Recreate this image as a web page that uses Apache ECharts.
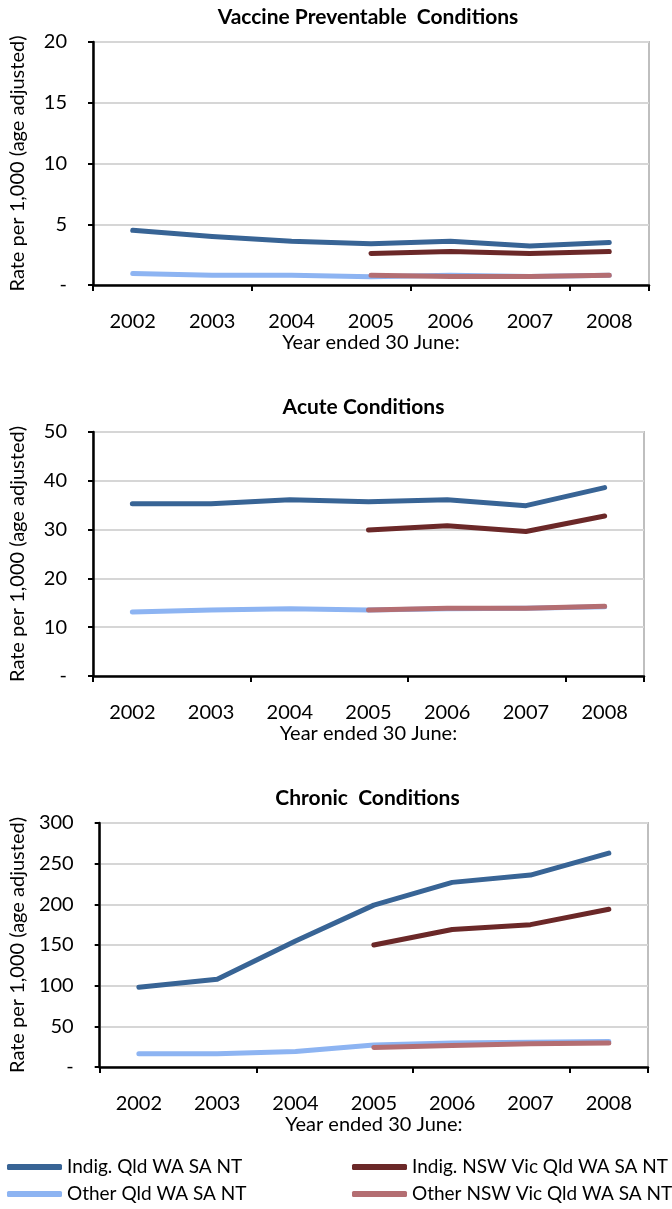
<!DOCTYPE html>
<html>
<head>
<meta charset="utf-8">
<script src="https://cdn.jsdelivr.net/npm/echarts@6/dist/echarts.min.js"></script>
<style>
html,body{margin:0;padding:0;background:#fff;}
#c{width:672px;height:1209px;}
</style>
</head>
<body>
<div id="c"></div>
<script>
const years = ['2002','2003','2004','2005','2006','2007','2008'];
const seriesNames = ['Indig. Qld WA SA NT','Other Qld WA SA NT','Indig. NSW Vic Qld WA SA NT','Other NSW Vic Qld WA SA NT'];
const colors = ['#386495','#8DB4F2','#6B2828','#B46E72'];
const panelTitles = ['Vaccine Preventable  Conditions','Acute Conditions','Chronic  Conditions'];

const vaccIndigQld = [4.5, 4.0, 3.6, 3.4, 3.6, 3.2, 3.5];
const vaccOtherQld = [0.95, 0.8, 0.8, 0.68, 0.8, 0.7, 0.8];
const vaccIndigNsw = [null, null, null, 2.6, 2.75, 2.6, 2.75];
const vaccOtherNsw = [null, null, null, 0.8, 0.7, 0.7, 0.8];

const acuteIndigQld = [35.3, 35.3, 36.1, 35.7, 36.1, 34.9, 38.6];
const acuteOtherQld = [13.1, 13.5, 13.8, 13.5, 13.8, 13.9, 14.2];
const acuteIndigNsw = [null, null, null, 29.9, 30.8, 29.6, 32.8];
const acuteOtherNsw = [null, null, null, 13.5, 13.9, 13.9, 14.3];

const chronIndigQld = [98, 108, 155, 199, 227, 236, 263];
const chronOtherQld = [16.4, 16.4, 19, 27, 29.5, 30.5, 31.5];
const chronIndigNsw = [null, null, null, 150, 169, 175, 194];
const chronOtherNsw = [null, null, null, 24, 26.5, 28.5, 29.5];

const yMax = [20, 50, 300];
const yInterval = [5, 10, 50];

const panels = [
  [vaccIndigQld, vaccOtherQld, vaccIndigNsw, vaccOtherNsw],
  [acuteIndigQld, acuteOtherQld, acuteIndigNsw, acuteOtherNsw],
  [chronIndigQld, chronOtherQld, chronIndigNsw, chronOtherNsw]
];

const FONT = 'Lato';
const grids = [
  {left: 93, top: 42, width: 556, height: 243},
  {left: 89, top: 432, width: 555, height: 244},
  {left: 93, top: 823, width: 555, height: 244}
];
const legendPos = [
  {left: 7, top: 1156},
  {left: 7, top: 1183},
  {left: 352, top: 1156},
  {left: 352, top: 1183}
];

const option = {
  animation: false,
  backgroundColor: '#fff',
  textStyle: {fontFamily: FONT},
  title: panelTitles.map((t, i) => ({
    text: t,
    left: grids[i].left + grids[i].width / 2 - 3,
    textAlign: 'center',
    top: grids[i].top - 35,
    padding: 0,
    textStyle: {fontFamily: FONT, fontSize: 21, fontWeight: 'bold', color: '#000'}
  })),
  grid: grids.map(g => Object.assign({show: true, borderColor: '#BFBFBF', borderWidth: 2, backgroundColor: 'transparent'}, g)),
  xAxis: grids.map((g, i) => ({
    type: 'category',
    gridIndex: i,
    data: years,
    boundaryGap: true,
    name: 'Year ended 30 June:',
    nameLocation: 'middle',
    nameGap: 48,
    nameTextStyle: {fontFamily: FONT, fontSize: 20, color: '#000'},
    axisLine: {lineStyle: {color: '#000', width: 2.5}},
    axisTick: {show: true, interval: 1, length: 6, lineStyle: {color: '#000', width: 2}},
    axisLabel: {interval: 0, margin: 27, fontFamily: FONT, fontSize: 20, color: '#000'},
    splitLine: {show: false}
  })),
  yAxis: grids.map((g, i) => ({
    type: 'value',
    gridIndex: i,
    min: 0,
    max: yMax[i],
    interval: yInterval[i],
    name: 'Rate per 1,000 (age adjusted)',
    nameLocation: 'middle',
    nameGap: 65,
    nameTextStyle: {fontFamily: FONT, fontSize: 20, color: '#000'},
    axisLine: {show: true, lineStyle: {color: '#000', width: 2.5}},
    axisTick: {show: true, length: 5, lineStyle: {color: '#000', width: 2}},
    axisLabel: {margin: 26, fontFamily: FONT, fontSize: 20, color: '#000',
      formatter: v => v === 0 ? '-' : String(v)},
    splitLine: {show: true, lineStyle: {color: '#D6D6D6', width: 2}}
  })),
  legend: seriesNames.map((n, k) => ({
    left: legendPos[k].left, top: legendPos[k].top, padding: 0,
    itemWidth: 55, itemHeight: 6, icon: 'roundRect',
    data: [n],
    textStyle: {fontFamily: FONT, fontSize: 19, color: '#000', lineHeight: 22}
  })),
  series: []
};

panels.forEach((p, i) => {
  p.forEach((vals, k) => {
    option.series.push({
      type: 'line',
      name: seriesNames[k],
      xAxisIndex: i,
      yAxisIndex: i,
      data: vals,
      showSymbol: false,
      symbol: 'none',
      connectNulls: false,
      color: colors[k],
      lineStyle: {color: colors[k], width: 5, cap: 'round', join: 'round'},
      z: 3 + k
    });
  });
});

const chart = echarts.init(document.getElementById('c'), null, {renderer: 'canvas'});
chart.setOption(option);
</script>
</body>
</html>
